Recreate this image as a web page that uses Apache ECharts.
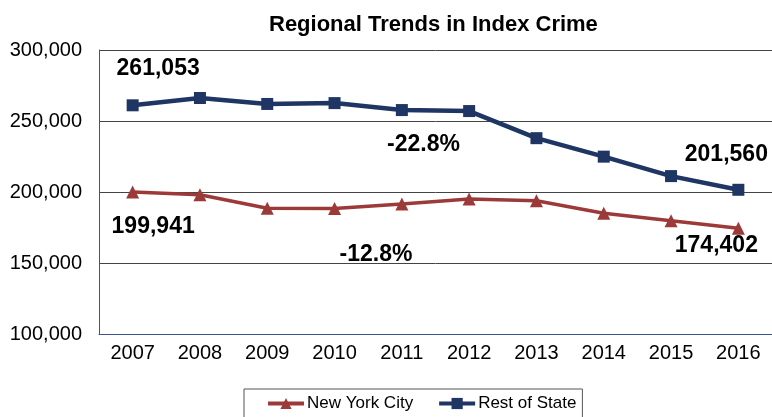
<!DOCTYPE html>
<html>
<head>
<meta charset="utf-8">
<script src="https://cdn.jsdelivr.net/npm/echarts@6/dist/echarts.min.js"></script>
<style>
html,body{margin:0;padding:0;background:#fff;}
#chart{width:772px;height:417px;}
</style>
</head>
<body>
<div id="chart"></div>
<script>
var years = ['2007','2008','2009','2010','2011','2012','2013','2014','2015','2016'];
var nycValues = [199941, 198000, 188500, 188300, 191500, 195100, 193900, 185000, 179800, 174402];
var restValues = [261053, 266200, 262000, 262600, 257700, 257000, 237900, 224900, 211200, 201560];
var yTicks = [100000, 150000, 200000, 250000, 300000];
var pctLabels = ['-22.8%', '-12.8%'];

var FONT = 'Liberation Sans, Arial, sans-serif';
var RED = '#9b3a38';
var BLUE = '#1f3564';

function withEndLabels(values, firstOffset, lastOffset) {
  return values.map(function (v, i) {
    if (i === 0 || i === values.length - 1) {
      return {
        value: v,
        label: {
          show: true,
          position: 'inside',
          offset: i === 0 ? firstOffset : lastOffset,
          formatter: function (p) { return p.value.toLocaleString('en-US'); },
          fontFamily: FONT, fontWeight: 'bold', fontSize: 23, color: '#000'
        }
      };
    }
    return v;
  });
}

var chart = echarts.init(document.getElementById('chart'), null, {renderer: 'canvas'});
chart.setOption({
  animation: false,
  backgroundColor: '#fff',
  title: {
    text: 'Regional Trends in Index Crime',
    left: 264, top: 9,
    textStyle: {fontFamily: FONT, fontWeight: 'bold', fontSize: 22, color: '#000'}
  },
  grid: {left: 99, top: 50, width: 675, height: 284, containLabel: false},
  legend: {
    left: 244, top: 389,
    padding: [6, 6, 40, 22],
    borderColor: '#555', borderWidth: 1,
    itemWidth: 36, itemHeight: 14, itemGap: 24,
    lineStyle: {width: 4},
    textStyle: {fontFamily: FONT, fontSize: 17, color: '#000', padding: [0, 0, 0, -2]},
    data: ['New York City', 'Rest of State']
  },
  xAxis: {
    type: 'category',
    data: years,
    boundaryGap: true,
    axisLine: {lineStyle: {color: '#3b5394', width: 1}},
    axisTick: {show: false},
    axisLabel: {fontFamily: FONT, fontSize: 20, color: '#000', margin: 9}
  },
  yAxis: {
    type: 'value',
    min: yTicks[0], max: yTicks[yTicks.length - 1], interval: 50000,
    axisLine: {show: true, lineStyle: {color: '#3b5394', width: 1}},
    axisTick: {show: false},
    splitLine: {lineStyle: {color: '#444', width: 1}},
    axisLabel: {
      fontFamily: FONT, fontSize: 20, color: '#000', margin: 17,
      formatter: function (v) { return v.toLocaleString('en-US'); }
    }
  },
  series: [
    {
      name: 'New York City', type: 'line',
      data: withEndLabels(nycValues, [20.5, 34.5], [-22, 17]),
      symbol: 'triangle', symbolSize: 13,
      lineStyle: {color: RED, width: 3.5},
      itemStyle: {color: RED},
      z: 3
    },
    {
      name: 'Rest of State', type: 'line',
      data: withEndLabels(restValues, [25.5, -37], [-12, -35]),
      symbol: 'rect', symbolSize: 12,
      lineStyle: {color: BLUE, width: 4.5},
      itemStyle: {color: BLUE},
      z: 4
    }
  ],
  graphic: [
    {type: 'text', x: 423.5, y: 144.5, z: 10,
     style: {text: pctLabels[0], align: 'center', verticalAlign: 'middle', font: 'bold 23px ' + FONT, fill: '#000'}},
    {type: 'text', x: 376, y: 255, z: 10,
     style: {text: pctLabels[1], align: 'center', verticalAlign: 'middle', font: 'bold 23px ' + FONT, fill: '#000'}}
  ]
});
</script>
</body>
</html>
